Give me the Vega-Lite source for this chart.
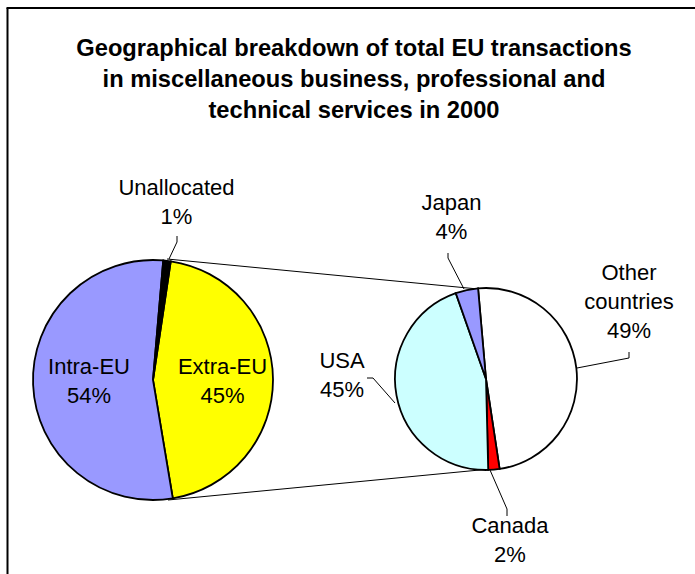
{
  "$schema": "https://vega.github.io/schema/vega-lite/v6.json",
  "width": 695,
  "height": 574,
  "padding": 0,
  "autosize": {"type": "none"},
  "background": "white",
  "config": {
    "view": {"stroke": null},
    "axis": {"disable": true},
    "legend": {"disable": true},
    "text": {"font": "Liberation Sans", "fontSize": 22, "lineBreak": "\n", "lineHeight": 29, "align": "center", "baseline": "alphabetic", "color": "black"},
    "rule": {"color": "black", "strokeWidth": 1}
  },
  "datasets": {
    "main": [
      {"region": "Extra-EU", "value": 45},
      {"region": "Intra-EU", "value": 54},
      {"region": "Unallocated", "value": 1}
    ],
    "extra": [
      {"region": "Other countries", "value": 49},
      {"region": "Canada", "value": 2},
      {"region": "USA", "value": 45},
      {"region": "Japan", "value": 4}
    ]
  },
  "resolve": {"scale": {"theta": "independent"}},
  "layer": [
    {
      "data": {"values": [{}]},
      "mark": {"type": "rule", "strokeWidth": 1},
      "encoding": {
        "x": {"datum": 167, "type": "quantitative", "scale": {"domain": [0, 695], "nice": false, "zero": false}},
        "y": {"datum": 259, "type": "quantitative", "scale": {"domain": [0, 574], "nice": false, "zero": false, "reverse": true}},
        "x2": {"datum": 478},
        "y2": {"datum": 289}
      }
    },
    {
      "data": {"values": [{}]},
      "mark": {"type": "rule", "strokeWidth": 1},
      "encoding": {
        "x": {"datum": 168, "type": "quantitative"},
        "y": {"datum": 500, "type": "quantitative"},
        "x2": {"datum": 490},
        "y2": {"datum": 469}
      }
    },
    {
      "data": {"name": "main"},
      "transform": [{"window": [{"op": "row_number", "as": "idx"}]}],
      "mark": {"type": "arc", "radius": 120, "stroke": "black", "strokeWidth": 1.8},
      "encoding": {
        "theta": {"field": "value", "type": "quantitative", "stack": true, "scale": {"range": [0.1484, 6.4316]}},
        "order": {"field": "idx", "type": "quantitative"},
        "color": {
          "field": "region", "type": "nominal",
          "scale": {
            "domain": ["Intra-EU", "Extra-EU", "Unallocated", "Other countries", "USA", "Japan", "Canada"],
            "range": ["#9999FF", "#FFFF00", "#000000", "#FFFFFF", "#CCFFFF", "#9999FF", "#FF0000"]
          }
        },
        "x": {"datum": 153, "type": "quantitative"},
        "y": {"datum": 380, "type": "quantitative"}
      }
    },
    {
      "data": {"name": "extra"},
      "transform": [{"window": [{"op": "row_number", "as": "idx"}]}],
      "mark": {"type": "arc", "radius": 91, "stroke": "black", "strokeWidth": 1.8},
      "encoding": {
        "theta": {"field": "value", "type": "quantitative", "stack": true, "scale": {"range": [-0.0873, 6.1959]}},
        "order": {"field": "idx", "type": "quantitative"},
        "color": {"field": "region", "type": "nominal"},
        "x": {"datum": 486, "type": "quantitative"},
        "y": {"datum": 379, "type": "quantitative"}
      }
    },
    {"data": {"values": [{}]}, "mark": "rule", "encoding": {"x": {"datum": 177, "type": "quantitative"}, "y": {"datum": 236, "type": "quantitative"}, "x2": {"datum": 177}, "y2": {"datum": 242}}},
    {"data": {"values": [{}]}, "mark": "rule", "encoding": {"x": {"datum": 177, "type": "quantitative"}, "y": {"datum": 242, "type": "quantitative"}, "x2": {"datum": 169}, "y2": {"datum": 259}}},
    {"data": {"values": [{}]}, "mark": "rule", "encoding": {"x": {"datum": 448, "type": "quantitative"}, "y": {"datum": 253, "type": "quantitative"}, "x2": {"datum": 448}, "y2": {"datum": 258}}},
    {"data": {"values": [{}]}, "mark": "rule", "encoding": {"x": {"datum": 448, "type": "quantitative"}, "y": {"datum": 258, "type": "quantitative"}, "x2": {"datum": 464}, "y2": {"datum": 289}}},
    {"data": {"values": [{}]}, "mark": "rule", "encoding": {"x": {"datum": 367, "type": "quantitative"}, "y": {"datum": 378, "type": "quantitative"}, "x2": {"datum": 373}, "y2": {"datum": 378}}},
    {"data": {"values": [{}]}, "mark": "rule", "encoding": {"x": {"datum": 373, "type": "quantitative"}, "y": {"datum": 378, "type": "quantitative"}, "x2": {"datum": 395}, "y2": {"datum": 403}}},
    {"data": {"values": [{}]}, "mark": "rule", "encoding": {"x": {"datum": 629, "type": "quantitative"}, "y": {"datum": 352, "type": "quantitative"}, "x2": {"datum": 629}, "y2": {"datum": 358}}},
    {"data": {"values": [{}]}, "mark": "rule", "encoding": {"x": {"datum": 629, "type": "quantitative"}, "y": {"datum": 358, "type": "quantitative"}, "x2": {"datum": 577}, "y2": {"datum": 368}}},
    {"data": {"values": [{}]}, "mark": "rule", "encoding": {"x": {"datum": 490, "type": "quantitative"}, "y": {"datum": 470, "type": "quantitative"}, "x2": {"datum": 507}, "y2": {"datum": 509}}},
    {"data": {"values": [{}]}, "mark": "rule", "encoding": {"x": {"datum": 507, "type": "quantitative"}, "y": {"datum": 509, "type": "quantitative"}, "x2": {"datum": 507}, "y2": {"datum": 516}}},
    {"data": {"values": [{}]}, "mark": {"type": "rule", "strokeWidth": 2}, "encoding": {"x": {"datum": 7.5, "type": "quantitative"}, "y": {"datum": 8, "type": "quantitative"}, "x2": {"datum": 7.5}, "y2": {"datum": 574}}},
    {"data": {"values": [{}]}, "mark": {"type": "rule", "strokeWidth": 2}, "encoding": {"x": {"datum": 6.5, "type": "quantitative"}, "y": {"datum": 8, "type": "quantitative"}, "x2": {"datum": 695}, "y2": {"datum": 8}}},
    {
      "data": {"values": [{}]},
      "mark": {"type": "text", "fontSize": 23.7, "fontWeight": "bold", "lineHeight": 31},
      "encoding": {
        "x": {"datum": 354, "type": "quantitative"},
        "y": {"datum": 56, "type": "quantitative"},
        "text": {"value": ["Geographical breakdown of total EU transactions", "in miscellaneous business, professional and", "technical services in 2000"]}
      }
    },
    {"data": {"name": "main"}, "transform": [{"filter": "datum.region == 'Intra-EU'"}, {"calculate": "replace(datum.region, ' ', '\\n') + '\\n' + datum.value + '%'", "as": "lbl"}], "mark": "text", "encoding": {"x": {"datum": 89, "type": "quantitative"}, "y": {"datum": 374, "type": "quantitative"}, "text": {"field": "lbl"}}},
    {"data": {"name": "main"}, "transform": [{"filter": "datum.region == 'Extra-EU'"}, {"calculate": "replace(datum.region, ' ', '\\n') + '\\n' + datum.value + '%'", "as": "lbl"}], "mark": "text", "encoding": {"x": {"datum": 222.5, "type": "quantitative"}, "y": {"datum": 374, "type": "quantitative"}, "text": {"field": "lbl"}}},
    {"data": {"name": "main"}, "transform": [{"filter": "datum.region == 'Unallocated'"}, {"calculate": "replace(datum.region, ' ', '\\n') + '\\n' + datum.value + '%'", "as": "lbl"}], "mark": "text", "encoding": {"x": {"datum": 176.5, "type": "quantitative"}, "y": {"datum": 195, "type": "quantitative"}, "text": {"field": "lbl"}}},
    {"data": {"name": "extra"}, "transform": [{"filter": "datum.region == 'Japan'"}, {"calculate": "replace(datum.region, ' ', '\\n') + '\\n' + datum.value + '%'", "as": "lbl"}], "mark": "text", "encoding": {"x": {"datum": 451.5, "type": "quantitative"}, "y": {"datum": 210, "type": "quantitative"}, "text": {"field": "lbl"}}},
    {"data": {"name": "extra"}, "transform": [{"filter": "datum.region == 'USA'"}, {"calculate": "replace(datum.region, ' ', '\\n') + '\\n' + datum.value + '%'", "as": "lbl"}], "mark": "text", "encoding": {"x": {"datum": 342, "type": "quantitative"}, "y": {"datum": 368, "type": "quantitative"}, "text": {"field": "lbl"}}},
    {"data": {"name": "extra"}, "transform": [{"filter": "datum.region == 'Other countries'"}, {"calculate": "replace(datum.region, ' ', '\\n') + '\\n' + datum.value + '%'", "as": "lbl"}], "mark": "text", "encoding": {"x": {"datum": 629, "type": "quantitative"}, "y": {"datum": 280, "type": "quantitative"}, "text": {"field": "lbl"}}},
    {"data": {"name": "extra"}, "transform": [{"filter": "datum.region == 'Canada'"}, {"calculate": "replace(datum.region, ' ', '\\n') + '\\n' + datum.value + '%'", "as": "lbl"}], "mark": "text", "encoding": {"x": {"datum": 510, "type": "quantitative"}, "y": {"datum": 533, "type": "quantitative"}, "text": {"field": "lbl"}}}
  ]
}
